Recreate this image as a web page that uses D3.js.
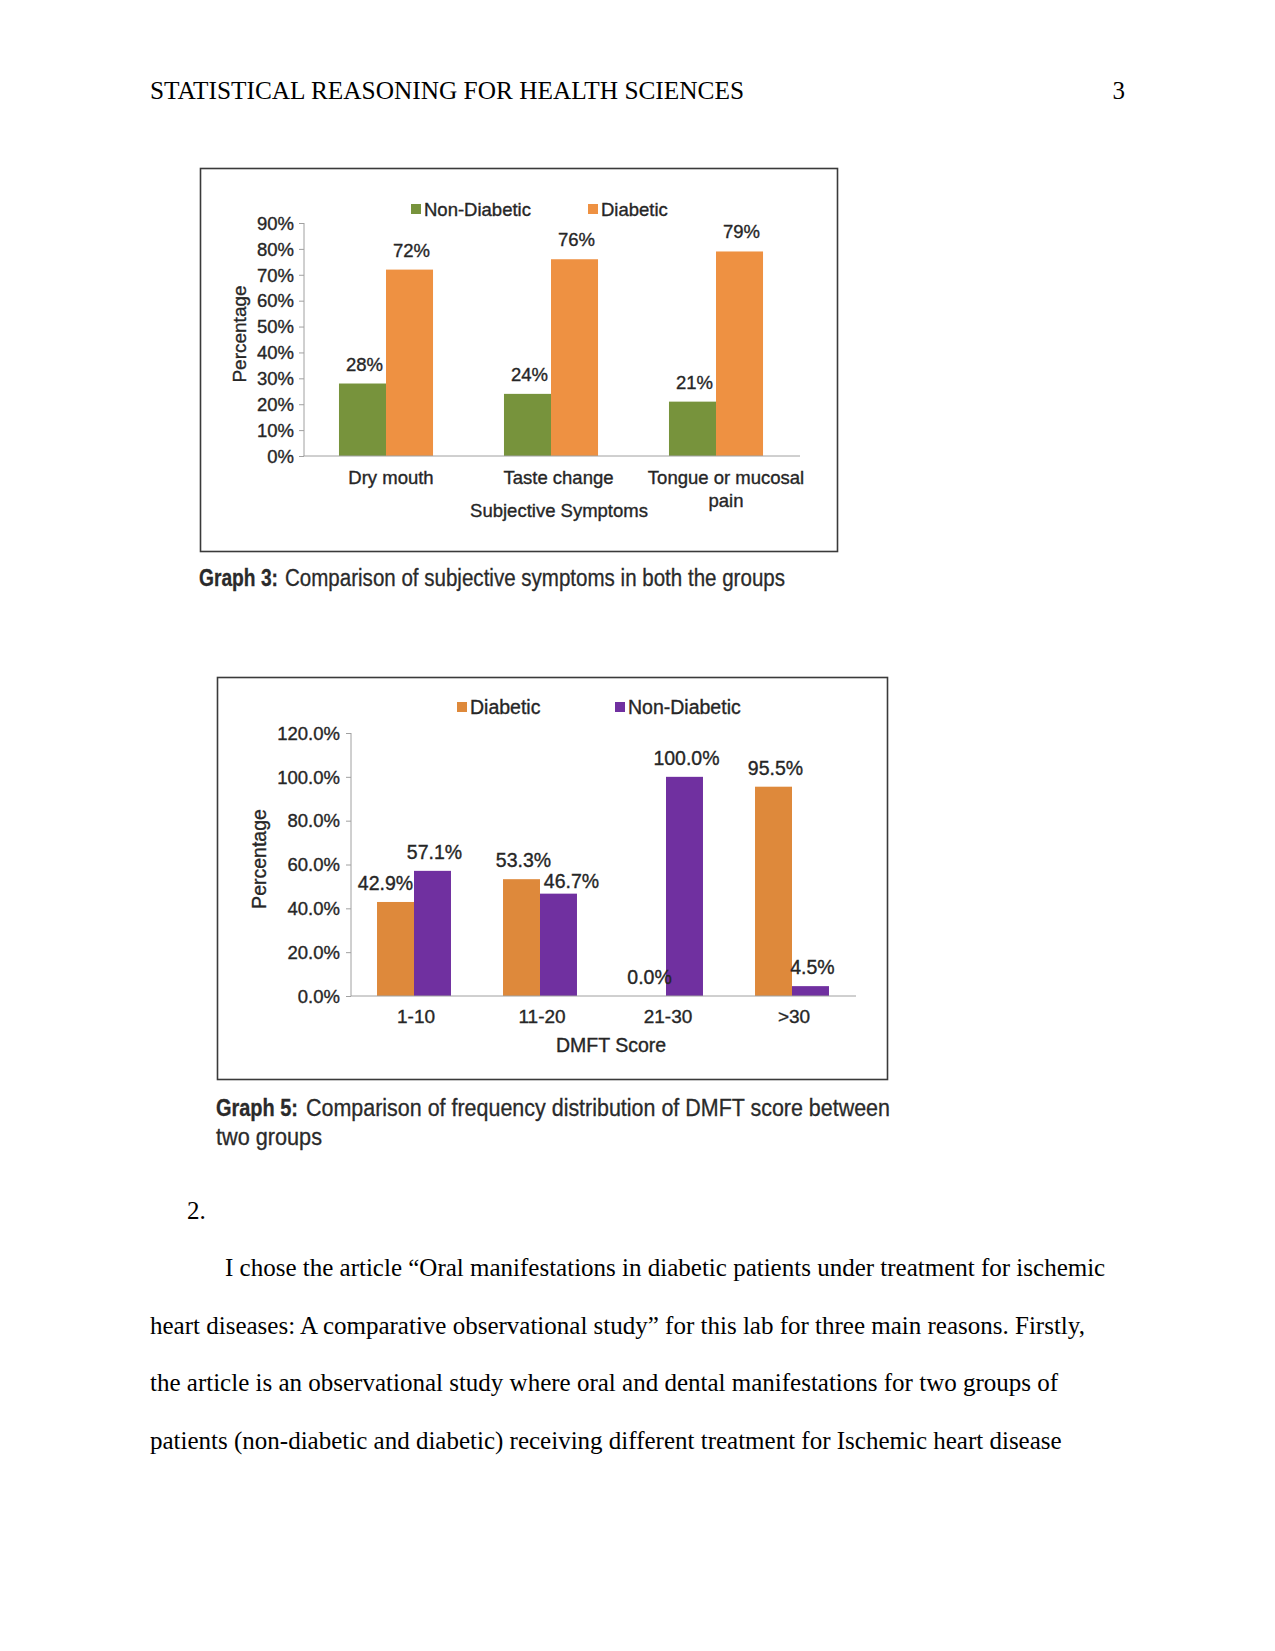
<!DOCTYPE html>
<html>
<head>
<meta charset="utf-8">
<script src="https://cdn.jsdelivr.net/npm/d3@7"></script>
<style>
  html, body { margin: 0; padding: 0; background: #fff; }
  svg { display: block; }
  .serif { font-family: "Liberation Serif", "Times New Roman", serif; fill: #000; }
  .sans { font-family: "Liberation Sans", Arial, sans-serif; fill: #262626; stroke: #262626; stroke-width: 0.35px; }
  .cap { font-family: "Liberation Sans", Arial, sans-serif; fill: #2a2a2a; stroke: #2a2a2a; stroke-width: 0.3px; }
  .axis path, .axis line { stroke: #a0a0a0; }
  .axis text { font-family: "Liberation Sans", Arial, sans-serif; fill: #262626; stroke: #262626; stroke-width: 0.35px; }
</style>
</head>
<body>
<script>
// ---------- Data ----------
const headerTitle = "STATISTICAL REASONING FOR HEALTH SCIENCES";
const pageNumber = "3";

// Graph 3
const symptomCategories = [["Dry mouth"], ["Taste change"], ["Tongue or mucosal", "pain"]];
const symptomSeries = ["Non-Diabetic", "Diabetic"];
const symptomNonDiabetic = [0.28, 0.24, 0.21];
const symptomDiabetic = [0.72, 0.76, 0.79];
const symptomTicks = [0, 0.1, 0.2, 0.3, 0.4, 0.5, 0.6, 0.7, 0.8, 0.9];
const symptomXTitle = "Subjective Symptoms";
const caption3Bold = "Graph 3:";
const caption3Text = "Comparison of subjective symptoms in both the groups";

// Graph 5
const dmftCategories = ["1-10", "11-20", "21-30", ">30"];
const dmftSeries = ["Diabetic", "Non-Diabetic"];
const dmftDiabetic = [0.429, 0.533, 0.0, 0.955];
const dmftNonDiabetic = [0.571, 0.467, 1.0, 0.045];
const dmftTicks = [0, 0.2, 0.4, 0.6, 0.8, 1.0, 1.2];
const dmftXTitle = "DMFT Score";
const caption5Bold = "Graph 5:";
const caption5Line1 = "Comparison of frequency distribution of DMFT score between";
const caption5Line2 = "two groups";

const yTitle = "Percentage";

const bodyNumber = "2.";
const bodyLines = [
  "I chose the article \u201COral manifestations in diabetic patients under treatment for ischemic",
  "heart diseases: A comparative observational study\u201D for this lab for three main reasons. Firstly,",
  "the article is an observational study where oral and dental manifestations for two groups of",
  "patients (non-diabetic and diabetic) receiving different treatment for Ischemic heart disease"
];

// ---------- Drawing ----------
const W = 1275, H = 1651;
const svg = d3.select("body").append("svg").attr("width", W).attr("height", H);

function fitText(parent, cls, x, y, size, len, txt, bold) {
  const t = parent.append("text").attr("class", cls).attr("x", x).attr("y", y)
    .attr("font-size", size).attr("textLength", len).attr("lengthAdjust", "spacingAndGlyphs").text(txt);
  if (bold) t.attr("font-weight", "bold");
  return t;
}

// Header
fitText(svg, "serif", 150, 99, 25, 594, headerTitle);
svg.append("text").attr("class", "serif").attr("x", 1125).attr("y", 99)
  .attr("font-size", 25).attr("text-anchor", "end").text(pageNumber);

// ===== Graph 3 =====
(function () {
  const colors = { "Non-Diabetic": "#77933c", "Diabetic": "#ee9142" };
  const fs = 18.5;
  const g = svg.append("g");
  g.append("rect").attr("x", 200.5).attr("y", 168.5).attr("width", 637).attr("height", 383)
    .attr("fill", "none").attr("stroke", "#3a3a3a").attr("stroke-width", 1.6);

  const x0 = d3.scaleBand().domain(d3.range(symptomCategories.length)).range([303.5, 798.5])
    .paddingInner(0.43).paddingOuter(0.215);
  const x1 = d3.scaleBand().domain(symptomSeries).range([0, x0.bandwidth()]);
  const y = d3.scaleLinear().domain([0, 0.9]).range([456, 223]);

  g.append("g").attr("class", "axis").attr("transform", "translate(304,0)")
    .call(d3.axisLeft(y).tickValues(symptomTicks).tickFormat(d3.format(".0%"))
      .tickSize(5).tickSizeOuter(0).tickPadding(5))
    .call(s => s.select(".domain").attr("d", `M0,${y(0.9)}V${y(0)}`))
    .call(s => s.selectAll("text").attr("font-size", fs).attr("dy", "0.34em"));

  const rows = symptomCategories.map((c, i) => ({ i, vals: [
    { s: "Non-Diabetic", v: symptomNonDiabetic[i] },
    { s: "Diabetic", v: symptomDiabetic[i] } ] }));

  const grp = g.selectAll(".cat").data(rows).join("g")
    .attr("transform", d => `translate(${x0(d.i)},0)`);
  grp.selectAll("rect").data(d => d.vals).join("rect")
    .attr("x", d => x1(d.s)).attr("width", x1.bandwidth())
    .attr("y", d => y(d.v)).attr("height", d => y(0) - y(d.v))
    .attr("fill", d => colors[d.s]);
  grp.selectAll("text.val").data(d => d.vals).join("text").attr("class", "sans val")
    .attr("x", d => x1(d.s) + x1.bandwidth() / 2 + 2).attr("y", d => y(d.v) - 13)
    .attr("text-anchor", "middle").attr("font-size", fs)
    .text(d => d3.format(".0%")(d.v));

  g.append("line").attr("x1", 303.5).attr("x2", 800).attr("y1", y(0)).attr("y2", y(0))
    .attr("stroke", "#a0a0a0");

  symptomCategories.forEach((lines, i) => {
    lines.forEach((t, j) => {
      g.append("text").attr("class", "sans").attr("font-size", fs).attr("text-anchor", "middle")
        .attr("x", x0(i) + x0.bandwidth() / 2 + 5 + i * 2.5)
        .attr("y", 484 + j * 23).text(t);
    });
  });
  g.append("text").attr("class", "sans").attr("font-size", fs).attr("text-anchor", "middle")
    .attr("x", 559).attr("y", 517).text(symptomXTitle);
  g.append("text").attr("class", "sans").attr("font-size", 19).attr("text-anchor", "middle")
    .attr("transform", "translate(246,334) rotate(-90)").text(yTitle);

  const lx = [411, 588];
  symptomSeries.forEach((s, i) => {
    g.append("rect").attr("x", lx[i]).attr("y", 204).attr("width", 10).attr("height", 10).attr("fill", colors[s]);
    g.append("text").attr("class", "sans").attr("font-size", fs).attr("x", lx[i] + 13).attr("y", 216).text(s);
  });

  fitText(g, "cap", 199, 586, 23, 79, caption3Bold, true);
  fitText(g, "cap", 285, 586, 23, 500, caption3Text);
})();

// ===== Graph 5 =====
(function () {
  const colors = { "Diabetic": "#de893b", "Non-Diabetic": "#7030a0" };
  const fs = 19.5;
  const g = svg.append("g");
  g.append("rect").attr("x", 217.5).attr("y", 677.5).attr("width", 670).attr("height", 402)
    .attr("fill", "none").attr("stroke", "#3a3a3a").attr("stroke-width", 1.6);

  const x0 = d3.scaleBand().domain(dmftCategories).range([351, 855])
    .paddingInner(0.413).paddingOuter(0.2065);
  const x1 = d3.scaleBand().domain(dmftSeries).range([0, x0.bandwidth()]);
  const y = d3.scaleLinear().domain([0, 1.2]).range([996, 733]);

  g.append("g").attr("class", "axis").attr("transform", "translate(351,0)")
    .call(d3.axisLeft(y).tickValues(dmftTicks).tickFormat(d3.format(".1%"))
      .tickSize(5).tickSizeOuter(0).tickPadding(6))
    .call(s => s.select(".domain").attr("d", `M0,${y(1.2)}V${y(0)}`))
    .call(s => s.selectAll("text").attr("font-size", 18.5).attr("dy", "0.34em"));

  const rows = dmftCategories.map((c, i) => ({ c, i, vals: [
    { s: "Diabetic", v: dmftDiabetic[i], i, k: 0 },
    { s: "Non-Diabetic", v: dmftNonDiabetic[i], i, k: 1 } ] }));

  // label nudges (dx, dy) to mimic hand-moved data labels
  const nudge = (d) => {
    if (d.i === 0 && d.k === 0) return [-10, 0];
    if (d.i === 1 && d.k === 1) return [13, 6];
    return [2, 0];
  };

  const grp = g.selectAll(".cat").data(rows).join("g")
    .attr("transform", d => `translate(${x0(d.c)},0)`);
  grp.selectAll("rect").data(d => d.vals).join("rect")
    .attr("x", d => x1(d.s)).attr("width", x1.bandwidth())
    .attr("y", d => y(d.v)).attr("height", d => y(0) - y(d.v))
    .attr("fill", d => colors[d.s]);
  grp.selectAll("text.val").data(d => d.vals).join("text").attr("class", "sans val")
    .attr("x", d => x1(d.s) + x1.bandwidth() / 2 + nudge(d)[0])
    .attr("y", d => y(d.v) - 12 + nudge(d)[1])
    .attr("text-anchor", "middle").attr("font-size", fs)
    .text(d => d3.format(".1%")(d.v));

  g.append("line").attr("x1", 351).attr("x2", 856).attr("y1", y(0)).attr("y2", y(0))
    .attr("stroke", "#a0a0a0");

  dmftCategories.forEach(c => {
    g.append("text").attr("class", "sans").attr("font-size", 19).attr("text-anchor", "middle")
      .attr("x", x0(c) + x0.bandwidth() / 2 + 2).attr("y", 1023).text(c);
  });
  g.append("text").attr("class", "sans").attr("font-size", fs).attr("text-anchor", "middle")
    .attr("x", 611).attr("y", 1052).text(dmftXTitle);
  g.append("text").attr("class", "sans").attr("font-size", 19.5).attr("text-anchor", "middle")
    .attr("transform", "translate(266,859) rotate(-90)").text(yTitle);

  const lx = [457, 615];
  dmftSeries.forEach((s, i) => {
    g.append("rect").attr("x", lx[i]).attr("y", 702).attr("width", 10).attr("height", 10).attr("fill", colors[s]);
    g.append("text").attr("class", "sans").attr("font-size", fs).attr("x", lx[i] + 13).attr("y", 714).text(s);
  });

  fitText(g, "cap", 216, 1116, 23, 82, caption5Bold, true);
  fitText(g, "cap", 306, 1116, 23, 584, caption5Line1);
  fitText(g, "cap", 216, 1145, 23, 106, caption5Line2);
})();

// Body text
svg.append("text").attr("class", "serif").attr("x", 187).attr("y", 1219)
  .attr("font-size", 25).text(bodyNumber);
bodyLines.forEach((t, i) => {
  svg.append("text").attr("class", "serif").attr("x", i === 0 ? 225 : 150)
    .attr("y", 1276 + i * 57.5).attr("font-size", 25).text(t);
});
</script>
</body>
</html>
